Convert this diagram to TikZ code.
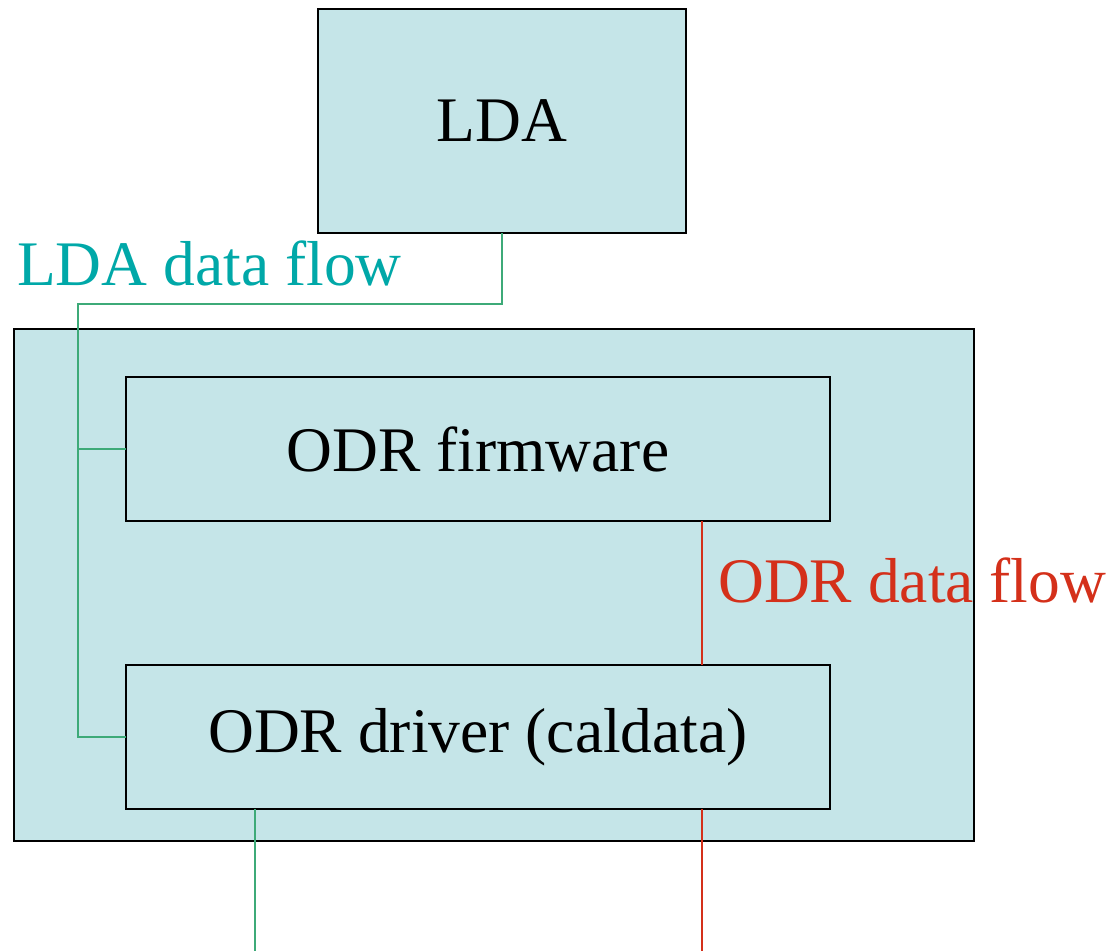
\documentclass[tikz,border=0pt]{standalone}
\usepackage{fontspec}
\setmainfont{Liberation Serif}
\definecolor{boxfill}{HTML}{C5E5E8}
\definecolor{ldagreen}{HTML}{3DAA78}
\definecolor{ldatext}{HTML}{00A8A8}
\definecolor{odrred}{HTML}{D4301A}
\begin{document}
\begin{tikzpicture}[x=1pt,y=-1pt,
  blk/.style={draw=black,fill=boxfill,line width=1.6pt,inner sep=0pt,outer sep=0pt,font=\fontsize{63.5}{76}\selectfont},
  gline/.style={draw=ldagreen,line width=1.6pt},
  rline/.style={draw=odrred,line width=1.6pt}]
\useasboundingbox (0,0) rectangle (1109,951);
\node[blk,minimum width=368pt,minimum height=224pt] (lda) at (502,121) {LDA};
\node[blk,minimum width=960pt,minimum height=512pt] (outer) at (494,585) {};
\node[blk,minimum width=704pt,minimum height=144pt] (fw) at (478,449) {ODR firmware};
\node[blk,minimum width=704pt,minimum height=144pt] (drv) at (478,737) {ODR driver (caldata)};
\coordinate (gturn) at (78,304);
\coordinate (gj1) at (78,449);
\coordinate (gj2) at (78,737);
\coordinate (gend) at (255,951);
\coordinate (rend) at (702,951);
\draw[gline] (lda.south) |- (gturn) -- (gj2) -- (drv.west);
\draw[gline] (gj1) -- (fw.west);
\draw[gline] (drv.south -| gend) -- (gend);
\draw[rline] (fw.south -| rend) -- (drv.north -| rend);
\draw[rline] (drv.south -| rend) -- (rend);
\node[anchor=base west,inner sep=0pt,text=ldatext,font=\fontsize{63.5}{76}\selectfont] (ldalbl) at (17,285) {LDA data flow};
\node[anchor=base west,inner sep=0pt,text=odrred,font=\fontsize{63.5}{76}\selectfont] (odrlbl) at (718,602) {ODR data flow};
\end{tikzpicture}
\end{document}
